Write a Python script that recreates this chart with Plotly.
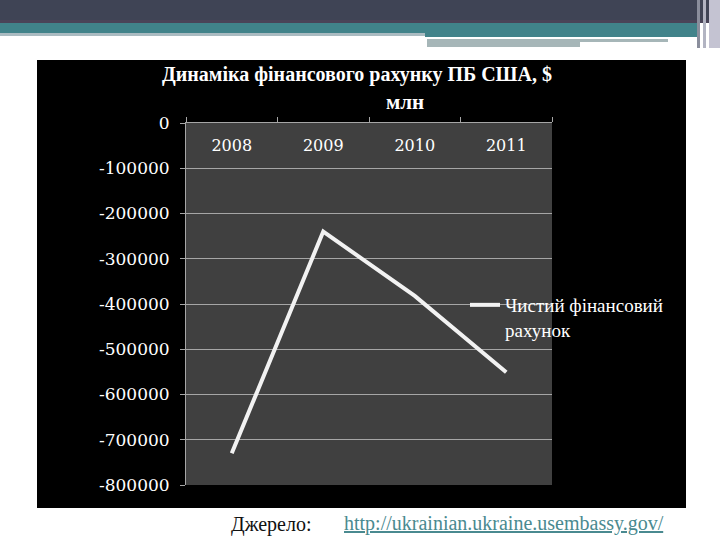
import plotly.graph_objects as go

# ---- data ----
years = ["2008", "2009", "2010", "2011"]
net_financial_account = [-730000, -240000, -382000, -551000]
series_name = "Чистий фінансовий<br>рахунок"
ytick_vals = [0, -100000, -200000, -300000, -400000, -500000, -600000, -700000, -800000]
ytick_text = ["0", "-100000", "-200000", "-300000", "-400000", "-500000", "-600000", "-700000", "-800000"]
title_line1 = "Динаміка фінансового рахунку ПБ США, $"
title_line2 = "млн"
source_label = "Джерело:"
source_url = "http://ukrainian.ukraine.usembassy.gov/"

# ---- layout geometry (pixels) ----
W, H = 720, 540
PL, PR, PT, PB = 186, 552, 123, 485


def px_x(px):
    return (px - PL) / (PR - PL)


def px_y(py):
    return (PB - py) / (PB - PT)


def rect(x0, y0, x1, y1, color):
    return dict(type="rect", xref="paper", yref="paper",
                x0=px_x(x0), x1=px_x(x1), y0=px_y(y1), y1=px_y(y0),
                fillcolor=color, line=dict(width=0), layer="below")


shapes = [
    # slide header decoration
    rect(0, 0, 720, 20, "#3f4455"),
    rect(0, 20, 720, 23, "#4a4458"),
    rect(0, 23, 698, 33, "#41838a"),
    rect(0, 33, 425, 36, "#aabbc1"),
    rect(425, 33, 698, 37, "#41838a"),
    rect(427, 39, 668, 42, "#a6b6b8"),
    rect(427, 42, 580, 47, "#a6b6b8"),
    rect(697, 0, 700, 48, "#8a8e9c"),
    rect(703, 0, 706, 48, "#b2b4c2"),
    rect(709, 0, 720, 48, "#c4c3d2"),
    # chart area
    rect(37, 60, 686, 508, "#000000"),
    rect(PL, PT, PR, PB, "#404040"),
]

fig = go.Figure()
fig.add_trace(go.Scatter(
    x=years, y=net_financial_account, mode="lines", name=series_name,
    line=dict(color="#f2f2f2", width=4),
))

serif = "Liberation Serif"
num_font = "DejaVu Serif"

annotations = [
    dict(text=f"<b>{title_line1}</b>", x=px_x(357), y=px_y(75), xref="paper", yref="paper",
         showarrow=False, xanchor="center", yanchor="middle",
         font=dict(family=serif, size=20, color="#ffffff")),
    dict(text=f"<b>{title_line2}</b>", x=px_x(405), y=px_y(102), xref="paper", yref="paper",
         showarrow=False, xanchor="center", yanchor="middle",
         font=dict(family=serif, size=21, color="#ffffff")),
    dict(text=source_label, x=px_x(271), y=px_y(524), xref="paper", yref="paper",
         showarrow=False, xanchor="center", yanchor="middle",
         font=dict(family=serif, size=20, color="#111111")),
    dict(text=f"<u>{source_url}</u>", x=px_x(504), y=px_y(523), xref="paper", yref="paper",
         showarrow=False, xanchor="center", yanchor="middle",
         font=dict(family=serif, size=20, color="#4a8a90")),
]

fig.update_layout(
    width=W, height=H,
    margin=dict(l=PL, r=W - PR, t=PT, b=H - PB, pad=0),
    paper_bgcolor="#ffffff",
    plot_bgcolor="#404040",
    shapes=shapes,
    annotations=annotations,
    showlegend=True,
    legend=dict(x=px_x(465), y=px_y(286), xanchor="left", yanchor="top",
                bgcolor="rgba(0,0,0,0)", valign="top", tracegroupgap=0,
                font=dict(family=serif, size=19, color="#ffffff")),
    xaxis=dict(
        type="category", side="top", range=[-0.5, 3.5],
        showline=True, linecolor="#a6a6a6", linewidth=1,
        ticks="outside", tickson="boundaries", ticklen=5, tickcolor="#a6a6a6",
        ticklabelposition="inside", ticklabelstandoff=17, ticklabeloverflow="allow",
        showgrid=False, zeroline=False,
        tickfont=dict(family=num_font, size=16, color="#ffffff"),
    ),
    yaxis=dict(
        range=[-800000, 0], tickvals=ytick_vals, ticktext=ytick_text,
        showline=True, linecolor="#a6a6a6", linewidth=1,
        ticks="outside", ticklen=5, tickcolor="#a6a6a6",
        showgrid=True, gridcolor="#a6a6a6", gridwidth=1, zeroline=False,
        tickfont=dict(family=num_font, size=17, color="#ffffff"),
        ticklabelstandoff=7, ticklabeloverflow="allow",
    ),
)

fig.write_html("out.html", config={"displayModeBar": False},
               post_script="document.body.style.margin='0';document.body.style.overflow='hidden';")
